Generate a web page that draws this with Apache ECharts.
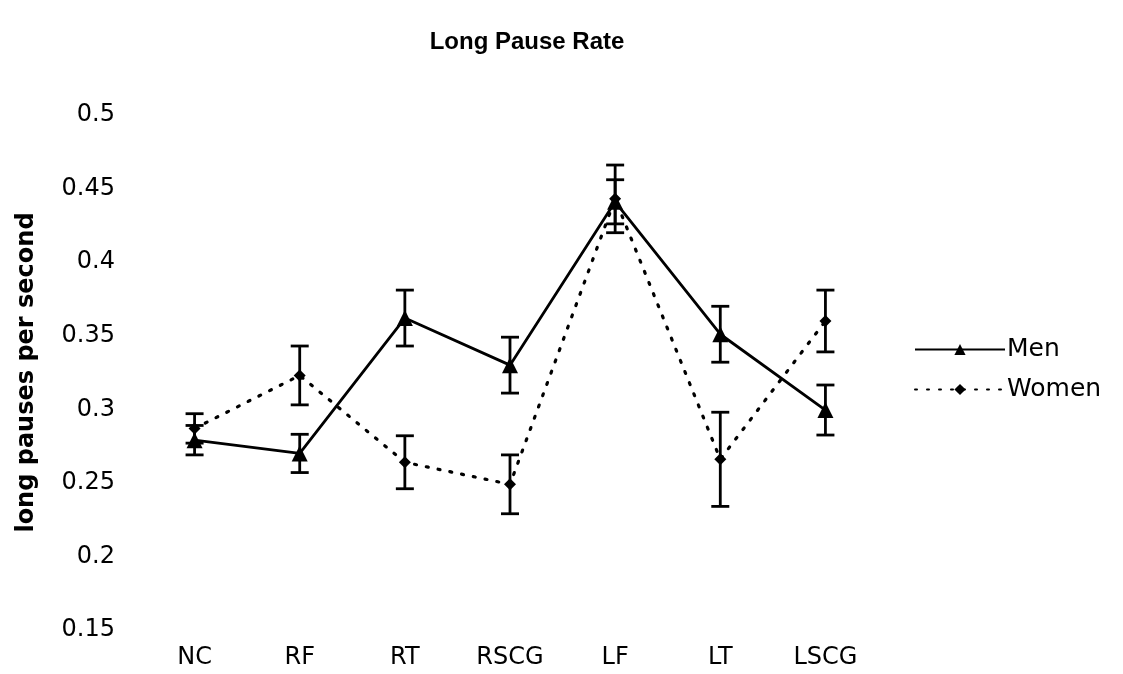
<!DOCTYPE html>
<html><head><meta charset="utf-8">
<script src="https://cdn.jsdelivr.net/npm/echarts@6/dist/echarts.min.js"></script>
<style>html,body{margin:0;padding:0;background:#fff}#c{width:1123px;height:674px}</style>
</head><body><div id="c"></div>
<script>
const categories = ['NC','RF','RT','RSCG','LF','LT','LSCG'];
const men = [0.279, 0.270, 0.362, 0.330, 0.441, 0.351, 0.2995];
const menErr = [0.010, 0.013, 0.019, 0.019, 0.015, 0.019, 0.017];
const women = [0.287, 0.323, 0.264, 0.249, 0.443, 0.266, 0.360];
const womenErr = [0.010, 0.020, 0.018, 0.020, 0.023, 0.032, 0.021];
const yTicks = [0.15, 0.5, 0.05];

function errData(vals, errs){ return vals.map((v,i)=>[i, v-errs[i], v+errs[i]]); }
function errRender(params, api){
  const lo = api.coord([api.value(0), api.value(1)]);
  const hi = api.coord([api.value(0), api.value(2)]);
  const hw = 9;
  const st = {stroke:'#000', lineWidth:2.8};
  return {type:'group', children:[
    {type:'line', shape:{x1:lo[0],y1:lo[1],x2:hi[0],y2:hi[1]}, style:st},
    {type:'line', shape:{x1:lo[0]-hw,y1:lo[1],x2:lo[0]+hw,y2:lo[1]}, style:st},
    {type:'line', shape:{x1:hi[0]-hw,y1:hi[1],x2:hi[0]+hw,y2:hi[1]}, style:st}
  ]};
}
const FONT = 'DejaVu Sans';
const chart = echarts.init(document.getElementById('c'));
chart.setOption({
  animation:false,
  backgroundColor:'#fff',
  title:{text:'Long Pause Rate', left:522, textAlign:'center', top:25,
    textStyle:{fontFamily:'Liberation Sans', fontWeight:'bold', fontSize:24, color:'#000'}},
  grid:{left:142, right:245, top:115, bottom:44},
  legend:{orient:'vertical', left:909, top:332, itemGap:15, itemWidth:90, itemHeight:14,
    textStyle:{fontFamily:FONT, fontSize:25, color:'#000', padding:[0,0,0,-3]},
    data:['Men','Women']},
  xAxis:{type:'category', data:categories, boundaryGap:true,
    axisLine:{show:false}, axisTick:{show:false}, splitLine:{show:false},
    axisLabel:{margin:16, fontFamily:FONT, fontSize:24, color:'#000'}},
  yAxis:{type:'value', min:yTicks[0], max:yTicks[1], interval:yTicks[2],
    name:'long pauses per second', nameLocation:'middle', nameGap:103, nameRotate:90,
    nameTextStyle:{fontFamily:FONT, fontWeight:'bold', fontSize:24, color:'#000'},
    axisLine:{show:false}, axisTick:{show:false}, splitLine:{show:false},
    axisLabel:{margin:27, fontFamily:FONT, fontSize:24, color:'#000'}},
  series:[
    {type:'custom', name:'menErr', renderItem:errRender, data:errData(men,menErr), z:3, silent:true},
    {type:'custom', name:'womenErr', renderItem:errRender, data:errData(women,womenErr), z:3, silent:true},
    {type:'line', name:'Men', data:men, symbol:'triangle', symbolSize:16,
      lineStyle:{color:'#000', width:2.8, type:'solid'}, itemStyle:{color:'#000'}, z:5},
    {type:'line', name:'Women', data:women, symbol:'diamond', symbolSize:12,
      lineStyle:{color:'#000', width:3.2, type:[2,10], cap:'round'}, itemStyle:{color:'#000'}, z:4}
  ]
});
</script></body></html>
